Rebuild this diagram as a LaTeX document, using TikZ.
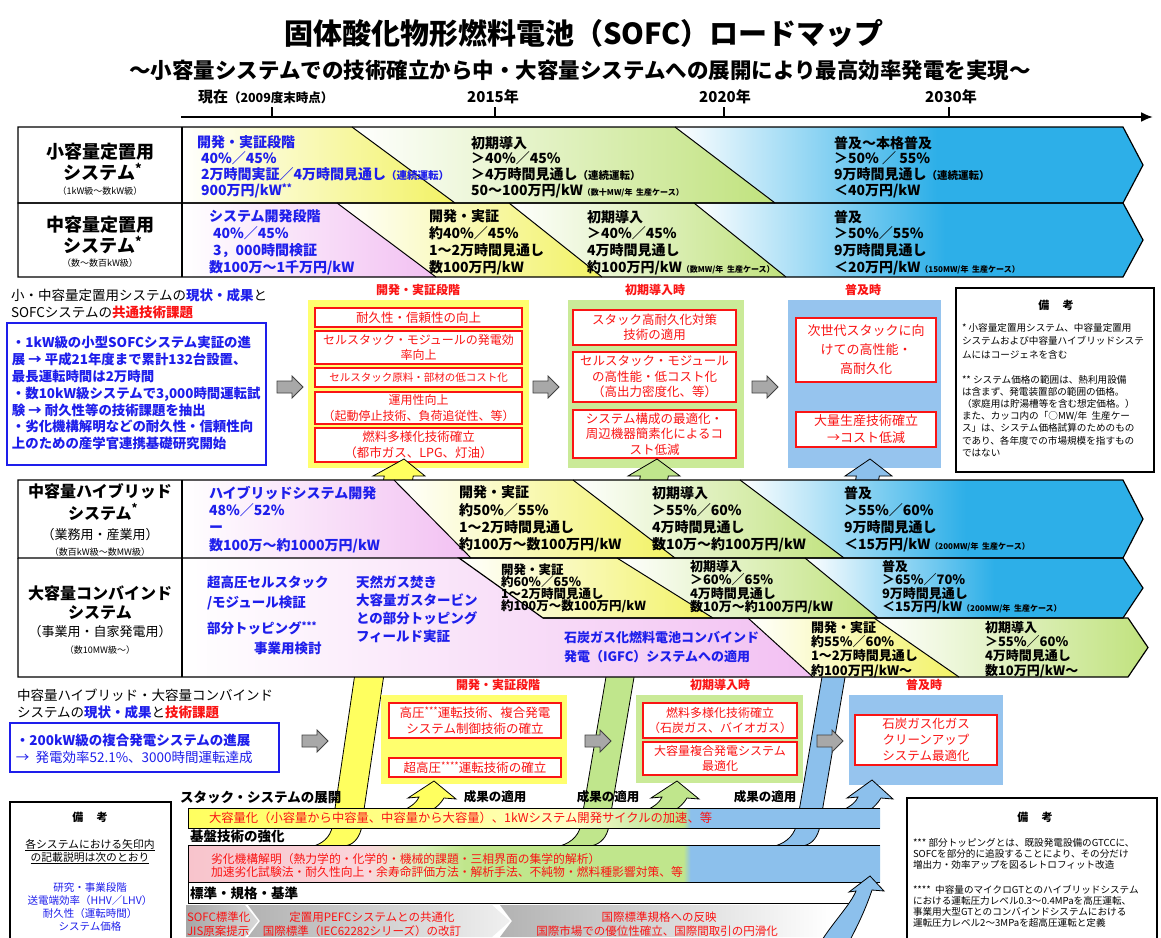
\documentclass[tikz,border=0pt]{standalone}
\usepackage{fontspec}
\setmainfont{Noto Sans CJK JP}
\usetikzlibrary{arrows.meta}
\newcommand{\FS}[1]{\fontsize{#1}{#1}\selectfont}
\newcommand{\FL}[2]{\fontsize{#1}{#2}\selectfont}
\newcommand{\astr}[1]{\raisebox{3.5pt}{\FS{9.5}#1}}
\definecolor{yelR}{RGB}{242,242,100}
\definecolor{greR}{RGB}{192,226,125}
\definecolor{bluR}{RGB}{45,175,232}
\definecolor{pinR}{RGB}{242,192,242}
\definecolor{yelP}{RGB}{255,255,110}
\definecolor{greP}{RGB}{202,234,152}
\definecolor{bluP}{RGB}{150,196,238}
\definecolor{bluT}{RGB}{30,30,235}
\definecolor{redT}{RGB}{250,20,20}
\definecolor{yelB}{RGB}{255,255,95}
\definecolor{greB}{RGB}{192,230,140}
\definecolor{bluB}{RGB}{140,192,236}
\definecolor{pinB}{RGB}{248,196,204}
\definecolor{grayA}{RGB}{168,168,168}
\colorlet{yelBa}{yelB!75!white}
\colorlet{yelBb}{yelB!35!white}
\colorlet{greBa}{greB!70!white}
\colorlet{pinBa}{pinB!70!white}
\colorlet{greBb}{greB!60!white}
\pgfdeclarehorizontalshading{wblue}{100bp}{color(0bp)=(white); color(25bp)=(white); color(53bp)=(bluR); color(100bp)=(bluR)}
\pgfdeclarehorizontalshading{barone}{100bp}{color(0bp)=(yelB); color(25bp)=(yelB); color(40bp)=(yelBa); color(53bp)=(yelBb); color(57bp)=(greBa); color(60.8bp)=(greB); color(61.3bp)=(bluB); color(100bp)=(bluB)}
\pgfdeclarehorizontalshading{bartwo}{100bp}{color(0bp)=(pinB); color(25bp)=(pinB); color(38bp)=(pinBa); color(42bp)=(greBb); color(45bp)=(greB); color(60.8bp)=(greB); color(61.3bp)=(bluB); color(100bp)=(bluB)}
\newcommand{\garrow}[2]{\draw[garr] (#1,#2-6)--(#1+15,#2-6)--(#1+15,#2-11)--(#1+26,#2)--(#1+15,#2+11)--(#1+15,#2+6)--(#1,#2+6)--cycle;}
\begin{document}
\begin{tikzpicture}[x=1pt,y=-1pt,
  every node/.style={inner sep=0pt,outer sep=0pt},
  rowtxt/.style={anchor=north west,align=left,font=\bfseries\FL{14}{15.7}},
  rowtxtb/.style={rowtxt,text=bluT},
  lblbig/.style={font=\bfseries\FS{18}},
  lblmid/.style={font=\FS{13}},
  lblsm/.style={font=\FS{9}},
  rbox/.style={draw=redT,line width=1.6pt,fill=white,text=redT,align=center,font=\FL{12.5}{15.5}},
  ptitle/.style={text=redT,font=\bfseries\FS{12}},
  garr/.style={draw=black!75,fill=grayA,line width=0.8pt},
  rowline/.style={draw=black,line width=1.2pt},
  diagline/.style={draw=black,line width=1pt},
  notetxt/.style={anchor=north west,align=left,font=\FL{9.6}{12.8}},
  band/.style={draw=black,line width=0.8pt},
  bxhead/.style={anchor=west,font=\FS{13.5}},
  sublbl/.style={anchor=west,font=\bfseries\FS{13.5}},
  reslbl/.style={font=\bfseries\FS{12.5}},
]
\useasboundingbox (0,0) rectangle (1161,937);
\fill[white] (0,0) rectangle (1161,937);

% ---------- title ----------
\node[font=\bfseries\FS{29}] (title) at (584,33) {固体酸化物形燃料電池（SOFC）ロードマップ};
\node[font=\bfseries\FS{21.5}] (subtitle) at (580,70) {～小容量システムでの技術確立から中・大容量システムへの展開により最高効率発電を実現～};

% ---------- timeline ----------
\coordinate (tlS) at (181,117);
\coordinate (tlE) at (1153,117);
\draw[line width=2.2pt,-{Latex[length=12pt,width=10pt]}] (tlS)--(tlE);
\foreach \tx in {272,495,724,949}{\draw[line width=2pt] (\tx,117)--(\tx,107);}
\node[anchor=west,font=\bfseries\FS{15}] (ynow) at (198,97) {現在{\FS{12.5}（2009度末時点）}};
\node[font=\bfseries\FS{15}] (y2015) at (493,97) {2015年};
\node[font=\bfseries\FS{15}] (y2020) at (725,97) {2020年};
\node[font=\bfseries\FS{15}] (y2030) at (951,97) {2030年};

% ---------- row 1 ----------
\shade[left color=white,right color=yelR] (182,127)--(352,127)--(455,203)--(182,203)--cycle;
\shade[left color=white,right color=greR] (352,127)--(675,127)--(775,203)--(455,203)--cycle;
\shade[shading=wblue] (675,127)--(1123,127)--(1143,165)--(1123,203)--(775,203)--cycle;
% ---------- row 2 ----------
\shade[left color=white,right color=pinR] (182,203)--(337,203)--(436,277)--(182,277)--cycle;
\shade[left color=white,right color=yelR] (337,203)--(509,203)--(602,277)--(436,277)--cycle;
\shade[left color=white,right color=greR] (509,203)--(694,203)--(786,277)--(602,277)--cycle;
\shade[shading=wblue] (694,203)--(1123,203)--(1143,240)--(1123,277)--(786,277)--cycle;
\draw[rowline] (18,127)--(1123,127)--(1143,165)--(1123,203)--(18,203)--cycle;
\draw[rowline] (18,203)--(1123,203)--(1143,240)--(1123,277)--(18,277)--cycle;
\draw[rowline] (182,127)--(182,277);
\draw[diagline] (352,127)--(455,203);
\draw[diagline] (675,127)--(775,203);
\draw[diagline] (337,203)--(436,277);
\draw[diagline] (509,203)--(602,277);
\draw[diagline] (694,203)--(786,277);

\node[lblbig] (l1a) at (100,152) {小容量定置用};
\node[lblbig] (l1b) at (103,172) {システム\textsuperscript{*}};
\node[lblsm] (l1c) at (100,191) {（1kW級～数kW級）};
\node[lblbig] (l2a) at (100,225) {中容量定置用};
\node[lblbig] (l2b) at (103,245) {システム\textsuperscript{*}};
\node[lblsm] (l2c) at (100,263) {（数～数百kW級）};

\node[rowtxtb] (r1a) at (197,136) {開発・実証段階\\\hspace*{4pt}40\%／45\%\\\hspace*{4pt}2万時間実証／4万時間見通し{\FS{10.5}（連続運転）}\\\hspace*{4pt}900万円/kW\astr{**}};
\node[rowtxt] (r1b) at (471,136) {初期導入\\＞40\%／45\%\\＞4万時間見通し{\FS{10.5}（連続運転）}\\50～100万円/kW{\FS{8}（数十MW/年\ \ 生産ケース）}};
\node[rowtxt] (r1c) at (834,136) {普及～本格普及\\＞50\% ／ 55\%\\9万時間見通し{\FS{10.5}（連続運転）}\\＜40万円/kW};

\node[rowtxtb,font=\bfseries\FL{14}{16.7}] (r2a) at (209,210) {システム開発段階\\\hspace*{4pt}40\%／45\%\\\hspace*{4pt}3，000時間検証\\数100万～1千万円/kW};
\node[rowtxt,font=\bfseries\FL{14}{16.7}] (r2b) at (429,210) {開発・実証\\約40\%／45\%\\1～2万時間見通し\\数100万円/kW};
\node[rowtxt,font=\bfseries\FL{14}{16.7}] (r2c) at (587,210) {初期導入\\＞40\%／45\%\\4万時間見通し\\約100万円/kW{\FS{8}（数MW/年\ \ 生産ケース）}};
\node[rowtxt,font=\bfseries\FL{14}{16.7}] (r2d) at (834,210) {普及\\＞50\%／55\%\\9万時間見通し\\＜20万円/kW{\FS{8}（150MW/年\ \ 生産ケース）}};

% ---------- section 1 ----------
\node[bxhead] (hdA1) at (11,295) {小・中容量定置用システムの{\bfseries\color{bluT}現状・成果}と};
\node[bxhead] (hdA2) at (11,312) {SOFCシステムの{\bfseries\color{redT}共通技術課題}};
\node[draw=bluT,line width=1.4pt,fill=white,minimum width=259,minimum height=142,anchor=north west] (stA) at (7,323) {};
\node[anchor=north west,align=left,text=bluT,font=\bfseries\FL{13.4}{16.9}] (stAt) at (12,336) {・1kW級の小型SOFCシステム実証の進\\展\ →\ 平成21年度まで累計132台設置、\\最長運転時間は2万時間\\・数10kW級システムで3,000時間運転試\\験\ →\ 耐久性等の技術課題を抽出\\・劣化機構解明などの耐久性・信頼性向\\上のための産学官連携基礎研究開始};
\garrow{277}{387}
\fill[yelP] (308,300) rectangle (529,468);
\node[ptitle] (ptA1) at (418,290) {開発・実証段階};
\node[rbox,minimum width=207,minimum height=19] (ra1) at (418.5,317.5) {耐久性・信頼性の向上};
\node[rbox,minimum width=207,minimum height=33,font=\FL{12}{15.5}] (ra2) at (418.5,347.5) {セルスタック・モジュールの発電効\\率向上};
\node[rbox,minimum width=207,minimum height=19,font=\FS{10.5}] (ra3) at (418.5,377.5) {セルスタック原料・部材の低コスト化};
\node[rbox,minimum width=207,minimum height=32,font=\FL{12}{15.5}] (ra4) at (418.5,408) {運用性向上\\（起動停止技術、負荷追従性、等）};
\node[rbox,minimum width=207,minimum height=34] (ra5) at (418.5,445) {燃料多様化技術確立\\（都市ガス、LPG、灯油）};
\garrow{533}{387}
\fill[greP] (568,300) rectangle (744,468);
\node[ptitle] (ptA2) at (655,290) {初期導入時};
\node[rbox,minimum width=163,minimum height=35] (rb1) at (654.5,327.5) {スタック高耐久化対策\\技術の適用};
\node[rbox,minimum width=163,minimum height=50] (rb2) at (654.5,377) {セルスタック・モジュール\\の高性能・低コスト化\\（高出力密度化、等）};
\node[rbox,minimum width=163,minimum height=48] (rb3) at (654.5,434) {システム構成の最適化・\\周辺機器簡素化によるコ\\スト低減};
\garrow{752}{387}
\fill[bluP] (788,300) rectangle (941,468);
\node[ptitle] (ptA3) at (863,290) {普及時};
\node[rbox,minimum width=140,minimum height=64,font=\FL{13}{19}] (rc1) at (866,350) {次世代スタックに向\\けての高性能・\\高耐久化};
\node[rbox,minimum width=140,minimum height=35,font=\FL{13}{17}] (rc2) at (866,429.5) {大量生産技術確立\\→コスト低減};

\node[draw,line width=1.3pt,fill=white,minimum width=198,minimum height=184,anchor=north west] (noteA) at (956,288) {};
\node[font=\bfseries\FS{11}] (noteAt) at (1056,305) {備\hspace{1.2em}考};
\node[notetxt,font=\FL{9.6}{13.5}] (noteA1) at (962,323) {* 小容量定置用システム、中容量定置用\\システムおよび中容量ハイブリッドシステ\\ムにはコージェネを含む};
\node[notetxt,font=\FL{9.6}{12.2}] (noteA2) at (962,375) {** システム価格の範囲は、熱利用設備\\は含まず、発電装置部の範囲の価格。\\（家庭用は貯湯槽等を含む想定価格。）\\また、カッコ内の「○MW/年\ \ 生産ケー\\ス」は、システム価格試算のためのもの\\であり、各年度での市場規模を指すもの\\ではない};

% ---------- bands ----------
\draw[band,fill=yelB] (404,459)--(425,476)--(413.2,476)--(361,830) .. controls (358,840) and (352,845) .. (345,846)--(314,846) .. controls (326,842) and (332,834) .. (333,822)--(384.2,476)--(373,476)--cycle;
\draw[band,fill=greB] (657,459)--(680,476)--(668.3,476)--(608,830) .. controls (605,840) and (598,845) .. (590,846)--(560,846) .. controls (573,842) and (580,834) .. (581.2,822)--(640.3,476)--(628,476)--cycle;
\draw[band,fill=bluB] (870,459)--(892,476)--(879.3,476)--(819,830) .. controls (816,840) and (810,845) .. (802,846)--(775,846) .. controls (788,842) and (795,834) .. (797.2,822)--(856.3,476)--(845,476)--cycle;

% ---------- rows 3 and 4 ----------
\shade[left color=white,right color=pinR] (182,480)--(394,480)--(471,558)--(182,558)--cycle;
\shade[left color=white,right color=yelR] (394,480)--(573,480)--(675,558)--(471,558)--cycle;
\shade[left color=white,right color=greR] (573,480)--(740,480)--(844,558)--(675,558)--cycle;
\shade[shading=wblue] (740,480)--(1123,480)--(1143,519)--(1123,558)--(844,558)--cycle;
\shade[left color=white,right color=pinR] (182,558)--(459,558)--(543,618)--(748,618)--(813,677)--(182,677)--cycle;
\shade[left color=white,right color=yelR] (459,558)--(617,558)--(713,618)--(543,618)--cycle;
\shade[left color=white,right color=greR] (617,558)--(805,558)--(878,618)--(713,618)--cycle;
\shade[shading=wblue] (805,558)--(1123,558)--(1143,588)--(1123,618)--(878,618)--cycle;
\shade[left color=white,right color=yelR] (748,618)--(874,618)--(959,677)--(813,677)--cycle;
\shade[left color=white,right color=greR] (874,618)--(1128,618)--(1148,647.5)--(1128,677)--(959,677)--cycle;
\draw[rowline] (18,480)--(1123,480)--(1143,519)--(1123,558)--(18,558)--cycle;
\draw[rowline] (459,558)--(1123,558)--(1143,588)--(1123,618)--(543,618)--cycle;
\draw[rowline] (543,618)--(1128,618)--(1148,647.5)--(1128,677)--(18,677)--(18,558);
\draw[rowline] (182,480)--(182,677);
\draw[diagline] (394,480)--(471,558);
\draw[diagline] (573,480)--(675,558);
\draw[diagline] (740,480)--(844,558);
\draw[diagline] (617,558)--(713,618);
\draw[diagline] (805,558)--(878,618);
\draw[diagline] (748,618)--(813,677);
\draw[diagline] (874,618)--(959,677);

\node[font=\bfseries\FS{16}] (l3a) at (100,491) {中容量ハイブリッド};
\node[font=\bfseries\FS{16}] (l3b) at (103,512) {システム\textsuperscript{*}};
\node[lblmid] (l3c) at (100,535) {（業務用・産業用）};
\node[lblsm] (l3d) at (100,552) {（数百kW級～数MW級）};
\node[font=\bfseries\FS{16}] (l4a) at (100,593) {大容量コンバインド};
\node[font=\bfseries\FS{16}] (l4b) at (100,613) {システム};
\node[lblmid] (l4c) at (100,632) {（事業用・自家発電用）};
\node[lblsm] (l4d) at (100,650) {（数10MW級～）};

\node[rowtxtb,font=\bfseries\FL{14}{17.3}] (r3a) at (209,486) {ハイブリッドシステム開発\\48\%／52\%\\ー\\数100万～約1000万円/kW};
\node[rowtxt,font=\bfseries\FL{14}{17.3}] (r3b) at (459,486) {開発・実証\\約50\%／55\%\\1～2万時間見通し\\約100万～数100万円/kW};
\node[rowtxt,font=\bfseries\FL{14}{17.3}] (r3c) at (652,486) {初期導入\\＞55\%／60\%\\4万時間見通し\\数10万～約100万円/kW};
\node[rowtxt,font=\bfseries\FL{14}{17.3}] (r3d) at (844,486) {普及\\＞55\%／60\%\\9万時間見通し\\＜15万円/kW{\FS{8}（200MW/年\ \ 生産ケース）}};

\node[rowtxtb,font=\bfseries\FL{13.5}{20}] (r4a) at (207,576) {超高圧セルスタック\\/モジュール検証};
\node[anchor=west,text=bluT,font=\bfseries\FS{13.5}] (r4b) at (207,628) {部分トッピング\astr{***}};
\node[anchor=west,text=bluT,font=\bfseries\FS{13.5}] (r4c) at (254,648) {事業用検討};
\node[rowtxtb,font=\bfseries\FL{13.5}{18}] (r4d) at (356,576) {天然ガス焚き\\大容量ガスタービン\\との部分トッピング\\フィールド実証};
\node[rowtxtb,font=\bfseries\FL{13}{19}] (r4e) at (564,631) {石炭ガス化燃料電池コンバインド\\発電（IGFC）システムへの適用};
\node[rowtxt,font=\bfseries\FL{12.5}{12}] (r4f) at (501,564) {開発・実証\\約60\%／65\%\\1～2万時間見通し\\約100万～数100万円/kW};
\node[rowtxt,font=\bfseries\FL{13}{13.5}] (r4g) at (690,560) {初期導入\\＞60\%／65\%\\4万時間見通し\\数10万～約100万円/kW};
\node[rowtxt,font=\bfseries\FL{13}{13.5}] (r4h) at (882,560) {普及\\＞65\%／70\%\\9万時間見通し\\＜15万円/kW{\FS{8}（200MW/年\ \ 生産ケース）}};
\node[rowtxt,font=\bfseries\FL{13}{14.3}] (r4i) at (811,621) {開発・実証\\約55\%／60\%\\1～2万時間見通し\\約100万円/kW～};
\node[rowtxt,font=\bfseries\FL{13}{14.3}] (r4j) at (985,621) {初期導入\\＞55\%／60\%\\4万時間見通し\\数10万円/kW～};

% ---------- section 2 ----------
\node[bxhead] (hdB1) at (17,695) {中容量ハイブリッド・大容量コンバインド};
\node[bxhead] (hdB2) at (17,712) {システムの{\bfseries\color{bluT}現状・成果}と{\bfseries\color{redT}技術課題}};
\node[draw=bluT,line width=1.4pt,fill=white,minimum width=269,minimum height=49,anchor=north west] (stB) at (10,723) {};
\node[anchor=west,text=bluT,font=\bfseries\FS{13.5}] (stB1) at (16,740) {・200kW級の複合発電システムの進展};
\node[anchor=west,text=bluT,font=\FS{13.5}] (stB2) at (16,757) {→\ \ 発電効率52.1\%、3000時間運転達成};
\garrow{302}{741}
\fill[yelP] (381,695) rectangle (567,784);
\node[ptitle] (ptB1) at (498,685) {開発・実証段階};
\node[rbox,minimum width=172,minimum height=35] (rd1) at (475,720.5) {高圧\astr{***}運転技術、複合発電\\システム制御技術の確立};
\node[rbox,minimum width=172,minimum height=19] (rd2) at (475,767.5) {超高圧\astr{****}運転技術の確立};
\garrow{585}{741}
\fill[greP] (636,695) rectangle (803,783);
\node[ptitle] (ptB2) at (720,685) {初期導入時};
\node[rbox,minimum width=154,minimum height=35,font=\FL{12}{15.5}] (re1) at (720,720.5) {燃料多様化技術確立\\（石炭ガス、バイオガス）};
\node[rbox,minimum width=154,minimum height=33,font=\FL{12}{15.5}] (re2) at (720,758.5) {大容量複合発電システム\\最適化};
\garrow{817}{741}
\fill[bluP] (849,695) rectangle (1003,785);
\node[ptitle] (ptB3) at (924,685) {普及時};
\node[rbox,minimum width=142,minimum height=50,font=\FL{12.5}{16}] (rf1) at (926,740) {石炭ガス化ガス\\クリーンアップ\\システム最適化};

% ---------- small result arrows ----------
\draw[band,fill=yelB] (404,810) .. controls (412,806) and (417,802) .. (419,797)--(408,798)--(434,781)--(456,799)--(444,798) .. controls (441,803) and (437,807) .. (432,810)--cycle;
\draw[band,fill=greB] (647,810) .. controls (655,806) and (660,802) .. (662,797)--(651,798)--(677,781)--(699,799)--(687,798) .. controls (684,803) and (680,807) .. (675,810)--cycle;
\draw[band,fill=bluB] (843,810) .. controls (851,806) and (856,802) .. (858,797)--(847,798)--(872,780)--(893,799)--(881,798) .. controls (878,803) and (874,807) .. (870,810)--cycle;

% ---------- bottom bars ----------
\shade[shading=barone] (188,808) rectangle (880,828);
\draw[line width=1pt] (880,808)--(188,808)--(188,828)--(880,828);
\shade[shading=bartwo] (188,845) rectangle (880,882);
\draw[line width=1pt] (880,845)--(188,845)--(188,882)--(880,882);
\draw[line width=1pt] (188,882)--(188,903)--(852,903);
\shade[left color=gray!60,right color=white] (500,905)--(832,905)--(832,937)--(500,937)--(512,921)--cycle;
\shade[left color=gray!60,right color=gray!12] (248,905)--(492,905)--(510,921)--(492,937)--(248,937)--(260,921)--cycle;
\shade[left color=gray!70,right color=gray!30] (186,905)--(245,905)--(258,921)--(245,937)--(186,937)--cycle;
\draw[band,fill=bluB] (822,940) .. controls (835,920) and (850,905) .. (856,891)--(849,892)--(870,876)--(884,891)--(872,890) .. controls (866,908) and (858,925) .. (850,940)--cycle;

\node[sublbl] (lblS1) at (180,797) {スタック・システムの展開};
\node[sublbl] (lblS2) at (190,836) {基盤技術の強化};
\node[sublbl] (lblS3) at (190,893) {標準・規格・基準};
\node[reslbl] (res1) at (495,797) {成果の適用};
\node[reslbl] (res2) at (608,797) {成果の適用};
\node[reslbl] (res3) at (765,797) {成果の適用};
\node[anchor=west,text=redT,font=\FS{12.3}] (bar1t) at (209,818) {大容量化（小容量から中容量、中容量から大容量）、1kWシステム開発サイクルの加速、等};
\node[anchor=north west,align=left,text=redT,font=\FL{11.8}{13.5}] (bar2t) at (211,853) {劣化機構解明（熱力学的・化学的・機械的課題・三相界面の集学的解析）\\加速劣化試験法・耐久性向上・余寿命評価方法・解析手法、不純物・燃料種影響対策、等};
\node[anchor=west,text=redT,font=\FS{11.5}] (bar3a) at (187,917) {SOFC標準化};
\node[anchor=west,text=redT,font=\FS{11.5}] (bar3b) at (187,931) {JIS原案提示};
\node[text=redT,font=\FS{11.5}] (bar3c) at (372,917) {定置用PEFCシステムとの共通化};
\node[text=redT,font=\FS{11.5}] (bar3d) at (362,931) {国際標準（IEC62282シリーズ）の改訂};
\node[text=redT,font=\FS{11.5}] (bar3e) at (659,917) {国際標準規格への反映};
\node[text=redT,font=\FS{11.5}] (bar3f) at (657,931) {国際市場での優位性確立、国際間取引の円滑化};

% ---------- bottom notes ----------
\node[draw,line width=1.3pt,fill=white,minimum width=161,minimum height=150,anchor=north west] (noteC) at (10,802) {};
\node[font=\bfseries\FS{11}] (noteCt) at (90,817) {備\hspace{1.2em}考};
\node[font=\FL{10.8}{13},align=center] (noteC1) at (90,851.5) {\underline{各システムにおける矢印内}\\\underline{の記載説明は次のとおり}};
\node[font=\FL{10.5}{13.3},align=center,text=bluT] (noteC2) at (90,907) {研究・事業段階\\送電端効率（HHV／LHV）\\耐久性（運転時間）\\システム価格};
\node[draw,line width=1.3pt,fill=white,minimum width=250,minimum height=150,anchor=north west] (noteD) at (907,798) {};
\node[font=\bfseries\FS{11}] (noteDt) at (1035,817) {備\hspace{1.2em}考};
\node[notetxt,font=\FL{9.6}{11.3}] (noteD1) at (913,838) {*** 部分トッピングとは、既設発電設備のGTCCに、\\SOFCを部分的に追設することにより、その分だけ\\増出力・効率アップを図るレトロフィット改造};
\node[notetxt,font=\FL{9.6}{11}] (noteD2) at (913,885) {**** \ 中容量のマイクロGTとのハイブリッドシステム\\における運転圧力レベル0.3～0.4MPaを高圧運転、\\事業用大型GTとのコンバインドシステムにおける\\運転圧力レベル2～3MPaを超高圧運転と定義};
\end{tikzpicture}
\end{document}
